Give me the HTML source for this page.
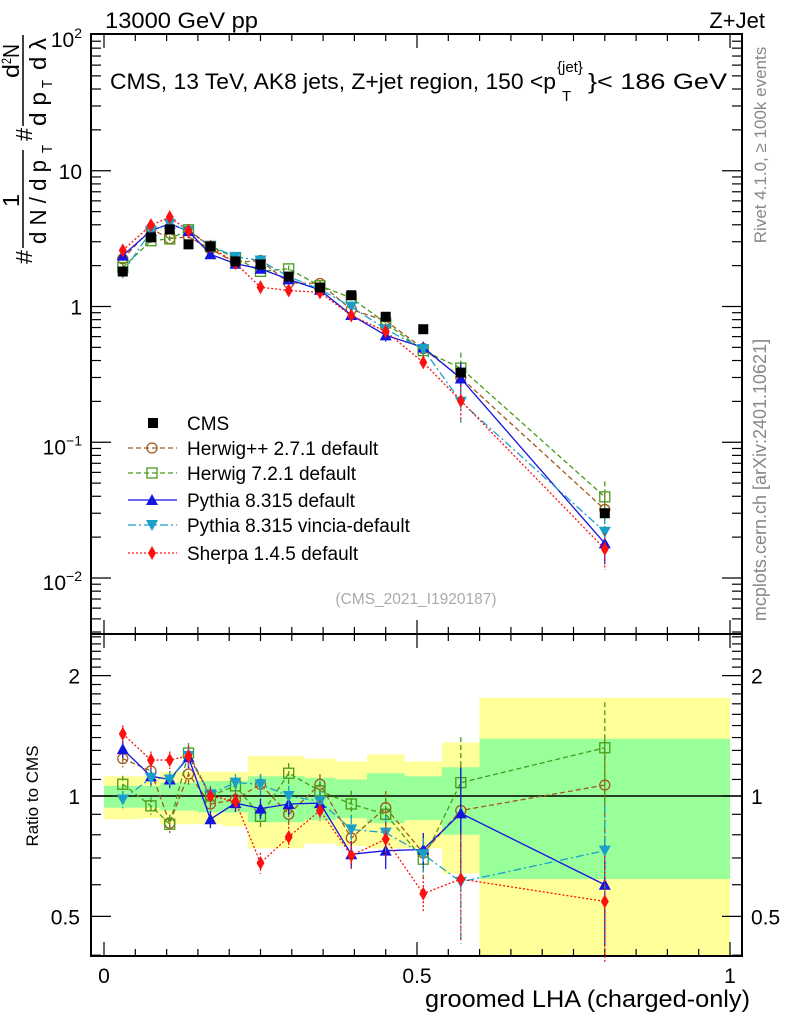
<!DOCTYPE html>
<html><head><meta charset="utf-8"><style>
html,body{margin:0;padding:0;background:#fff;}
svg{display:block;font-family:"Liberation Sans",sans-serif;}
</style></head><body>
<svg id="c" width="786" height="1024" viewBox="0 0 786 1024"></svg>
<script>
const bins=[0.03,0.075,0.105,0.135,0.17,0.21,0.25,0.295,0.345,0.395,0.45,0.51,0.57,0.8];
const edges=[0,0.06,0.09,0.12,0.15,0.19,0.23,0.27,0.32,0.37,0.42,0.48,0.54,0.6,1.0];
const cmsVals=[1.81,3.23,3.7,2.87,2.77,2.15,2.04,1.66,1.38,1.21,0.84,0.68,0.326,0.030];
const yelHi=[1.12,1.12,1.15,1.15,1.15,1.15,1.26,1.26,1.24,1.22,1.27,1.22,1.36,1.76];
const yelLo=[0.875,0.88,0.85,0.85,0.85,0.84,0.74,0.74,0.76,0.75,0.74,0.74,0.64,0.39];
const grnHi=[1.06,1.06,1.08,1.08,1.09,1.09,1.12,1.12,1.11,1.10,1.14,1.12,1.18,1.39];
const grnLo=[0.935,0.935,0.92,0.92,0.91,0.91,0.86,0.86,0.87,0.88,0.855,0.87,0.80,0.62];
const rHpp=[1.24,1.155,0.855,1.135,0.955,0.98,1.07,0.90,1.07,0.785,0.935,0.72,0.92,1.065];
const rH7=[1.07,0.945,0.85,1.28,1.0,1.06,0.89,1.14,1.03,0.955,0.90,0.695,1.08,1.32];
const rPy=[1.31,1.12,1.10,1.25,0.875,0.96,0.93,0.955,0.96,0.715,0.73,0.735,0.905,0.60];
const rVin=[0.98,1.11,1.10,1.26,1.01,1.08,1.07,1.0,0.97,0.825,0.81,0.715,0.61,0.73];
const rSh=[1.43,1.23,1.23,1.26,1.0,0.97,0.68,0.79,0.92,0.71,0.78,0.57,0.62,0.545];
const relErr=[0.05,0.05,0.05,0.06,0.05,0.05,0.06,0.06,0.06,0.08,0.1,0.1,0.3,0.3];

const S=document.getElementById('c');
const NS='http://www.w3.org/2000/svg';
function mk(tag,at,parent){const e=document.createElementNS(NS,tag);for(const k in at)e.setAttribute(k,at[k]);(parent||S).appendChild(e);return e;}
const X0=91,X1=742;
function xs(v){return 104+v*626;}
function ym(v){return 35+135.75*(2-Math.log10(v));}
function yr(v){return 796-400*Math.log10(v);}
const MT=34,MB=634,RB=956;

for(let i=0;i<bins.length;i++){
  let r=mk('rect',{x:xs(edges[i]),width:xs(edges[i+1])-xs(edges[i]),y:Math.max(MB,yr(yelHi[i])),height:Math.min(RB,yr(yelLo[i]))-Math.max(MB,yr(yelHi[i])),fill:'#ffff99'});
  
  
  let g=mk('rect',{x:xs(edges[i]),width:xs(edges[i+1])-xs(edges[i]),y:yr(grnHi[i]),height:yr(grnLo[i])-yr(grnHi[i]),fill:'#99ff99'});
  
  
}
mk('line',{x1:X0,x2:X1,y1:yr(1),y2:yr(1),stroke:'#000','stroke-width':1.5});

const f1=mk('rect',{x:X0,y:MT,width:X1-X0,height:MB-MT,fill:'none',stroke:'#000','stroke-width':2});


const f2=mk('rect',{x:X0,y:MB,width:X1-X0,height:RB-MB,fill:'none',stroke:'#000','stroke-width':2});



for(let k=0;k<=20;k++){const v=k*0.05;const x=xs(v);if(x>X1)break;const L=k%10==0?14:7;
  [[MT,1],[MB,-1],[MB,1],[RB,-1]].forEach(([y,d])=>mk('line',{x1:x,x2:x,y1:y,y2:y+d*L,stroke:'#000','stroke-width':1.2}));}
for(let e=-3;e<2;e++)for(let m=1;m<10;m++){const v=m*Math.pow(10,e);const y=ym(v);if(y<MT||y>MB)continue;const L=m==1?20:10;
  mk('line',{x1:X0,x2:X0+L,y1:y,y2:y,stroke:'#000','stroke-width':1.2});mk('line',{x1:X1,x2:X1-L,y1:y,y2:y,stroke:'#000','stroke-width':1.2});}
for(let k=4;k<=25;k++){const v=k/10;const y=yr(v);const major=(k==5||k==10||k==20);const L=major?20:10;
  mk('line',{x1:X0,x2:X0+L,y1:y,y2:y,stroke:'#000','stroke-width':1.2});mk('line',{x1:X1,x2:X1-L,y1:y,y2:y,stroke:'#000','stroke-width':1.2});}

function txt(s,x,y,at){const t=mk('text',Object.assign({x:x,y:y},at||{}));t.textContent=s;return t;}
function expLab(base,ex,y,name){const t=mk('text',{x:82,y:y+8,'text-anchor':'end','font-size':21});
  
  
  const a=mk('tspan',{},t);a.textContent=base;if(ex){const b=mk('tspan',{dy:-9,'font-size':14},t);b.textContent=ex;}}
expLab('10','2',ym(100)+4,'y-tick-100');expLab('10','',ym(10),'y-tick-10');expLab('1','',ym(1),'y-tick-1');expLab('10','−1',ym(0.1)+4,'y-tick-0.1');expLab('10','−2',ym(0.01)+4,'y-tick-0.01');
[[2,'2'],[1,'1'],[0.5,'0.5']].forEach(([v,s])=>{
  const a=txt(s,80,yr(v)+8,{'text-anchor':'end','font-size':21});
  
  
  const b=txt(s,751,yr(v)+8,{'font-size':21});
  
  });
[[0,'0'],[0.5,'0.5'],[1,'1']].forEach(([v,s])=>{const a=txt(s,xs(v),983,{'text-anchor':'middle','font-size':21});
  
  });
const xt=txt('groomed LHA (charged-only)',425,1007,{'font-size':24,textLength:325,lengthAdjust:'spacingAndGlyphs'});


const rt=txt('Ratio to CMS',38,796,{'text-anchor':'middle','font-size':17,transform:'rotate(-90 38 796)'});


const bl=txt('13000 GeV pp',105,28,{'font-size':22,textLength:153,lengthAdjust:'spacingAndGlyphs'});


const pl=txt('Z+Jet',765,28,{'font-size':22,'text-anchor':'end'});


const tg=mk('g',{'font-size':22});


txt('CMS, 13 TeV, AK8 jets, Z+jet region, 150 <p',110,89,{textLength:446,lengthAdjust:'spacingAndGlyphs'}).parentNode;
S.lastChild.remove();
mk('text',{x:110,y:89,textLength:446,lengthAdjust:'spacingAndGlyphs'},tg).textContent='CMS, 13 TeV, AK8 jets, Z+jet region, 150 <p';
mk('text',{x:557,y:72,'font-size':15},tg).textContent='{jet}';
mk('text',{x:562,y:101,'font-size':15},tg).textContent='T';
mk('text',{x:588,y:89,textLength:139,lengthAdjust:'spacingAndGlyphs'},tg).textContent='}< 186 GeV';
const rl=txt('Rivet 4.1.0, ≥ 100k events',766,145,{'font-size':17,fill:'#888','text-anchor':'middle',transform:'rotate(-90 766 145)'});


const ml=txt('mcplots.cern.ch [arXiv:2401.10621]',766,480,{'font-size':18,fill:'#888','text-anchor':'middle',transform:'rotate(-90 766 480)'});


const ai=txt('(CMS_2021_I1920187)',416,604,{'font-size':15.5,fill:'#aaa','text-anchor':'middle'});



// y axis title (rotated)
const yg=mk('g',{transform:'rotate(-90)','font-size':23});


function yt(s,y0,y1,base,fs){const t=mk('text',{x:-y1,y:base,'font-size':fs||23,textLength:(y1-y0),lengthAdjust:'spacingAndGlyphs'},yg);t.textContent=s;return t;}
yt('#',250,264,32);
yt('1',194,207,19);
yt('d N / d p',160,244,46);
yt('T',145,153,52,15);
yt('#',128,141,32);
yt('d',64,78,19);
yt('2',58,64,11,14);
yt('N',44,58,19);
yt('d p',92,126,46);
yt('T',80,88,52,15);
yt('d λ',38,70,46);
mk('line',{x1:23,x2:23,y1:150,y2:248,stroke:'#000','stroke-width':1.5});
mk('line',{x1:23,x2:23,y1:35,y2:126,stroke:'#000','stroke-width':1.5});

function marker(type,x,y,col,parent){
  if(type=='sq')return mk('rect',{x:x-5,y:y-5,width:10,height:10,fill:'#000'},parent);
  if(type=='circ')return mk('circle',{cx:x,cy:y,r:5,fill:'none',stroke:col,'stroke-width':1.3},parent);
  if(type=='osq')return mk('rect',{x:x-5,y:y-5,width:10,height:10,fill:'none',stroke:col,'stroke-width':1.3},parent);
  if(type=='up')return mk('polygon',{points:`${x},${y-6} ${x-6},${y+5} ${x+6},${y+5}`,fill:col},parent);
  if(type=='dn')return mk('polygon',{points:`${x},${y+6} ${x-6},${y-5} ${x+6},${y-5}`,fill:col},parent);
  if(type=='dia')return mk('polygon',{points:`${x},${y-7} ${x-4},${y} ${x},${y+7} ${x+4},${y}`,fill:col},parent);
}
const series=[
 {name:'herwigpp',r:rHpp,col:'#a05a1e',dash:'5,3',m:'circ',label:'Herwig++ 2.7.1 default'},
 {name:'herwig7',r:rH7,col:'#4a9a1a',dash:'5,3',m:'osq',label:'Herwig 7.2.1 default'},
 {name:'pythia',r:rPy,col:'#1515e0',dash:'',m:'up',label:'Pythia 8.315 default'},
 {name:'vincia',r:rVin,col:'#1aa0c8',dash:'8,3,2,3',m:'dn',label:'Pythia 8.315 vincia-default'},
 {name:'sherpa',r:rSh,col:'#ff1010',dash:'2,2',m:'dia',label:'Sherpa 1.4.5 default'}];
series.forEach(s=>{
  const gm=mk('g',{});
  
  
  const gr=mk('g',{});
  
  
  const pm=bins.map((b,i)=>xs(b)+','+ym(cmsVals[i]*s.r[i])).join(' ');
  const pr=bins.map((b,i)=>xs(b)+','+yr(s.r[i])).join(' ');
  mk('polyline',{points:pm,fill:'none',stroke:s.col,'stroke-width':1.3,'stroke-dasharray':s.dash},gm);
  mk('polyline',{points:pr,fill:'none',stroke:s.col,'stroke-width':1.3,'stroke-dasharray':s.dash},gr);
  bins.forEach((b,i)=>{const x=xs(b);const v=cmsVals[i]*s.r[i];const e=relErr[i];
    mk('line',{x1:x,x2:x,y1:ym(v*(1+e)),y2:ym(v*(1-e)),stroke:s.col,'stroke-width':1.3,'stroke-dasharray':s.dash},gm);
    mk('line',{x1:x,x2:x,y1:yr(s.r[i]*(1+e)),y2:yr(s.r[i]*(1-e)),stroke:s.col,'stroke-width':1.3,'stroke-dasharray':s.dash},gr);
    marker(s.m,x,ym(v),s.col,gm);marker(s.m,x,yr(s.r[i]),s.col,gr);});
});
const gc=mk('g',{});


bins.forEach((b,i)=>marker('sq',xs(b),ym(cmsVals[i]),'#000',gc));

const lg=mk('g',{});


marker('sq',153,423,'#000',lg);
const lc=txt('CMS',187,430,{'font-size':19});


series.forEach((s,k)=>{const y=[448,473,500,525,553][k];
  mk('line',{x1:128,x2:177,y1:y,y2:y,stroke:s.col,'stroke-width':1.3,'stroke-dasharray':s.dash},lg);
  marker(s.m,152,y,s.col,lg);
  const le=txt(s.label,187,y+7,{'font-size':19});
  
  });
</script>
</body></html>
